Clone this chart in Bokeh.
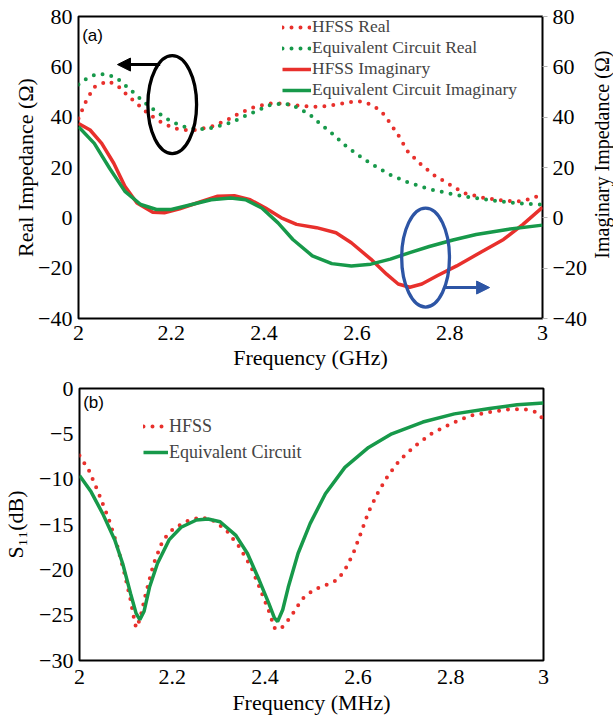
from bokeh.core.properties import value
from bokeh.embed import file_html
from bokeh.layouts import column, row
from bokeh.models import (Arrow, FixedTicker, Label, Legend, LegendItem,
                          LinearAxis, NormalHead, NumeralTickFormatter, Range1d)
from bokeh.plotting import figure
from bokeh.resources import INLINE

# ---------------- data: panel (a) impedance ----------------
hfss_real_f = [2.000, 2.017, 2.034, 2.063, 2.084, 2.105, 2.126, 2.150, 2.176, 2.206,
               2.230, 2.250, 2.286, 2.320, 2.345, 2.378, 2.420, 2.470, 2.517, 2.560,
               2.597, 2.618, 2.640, 2.660, 2.676, 2.689, 2.710, 2.735, 2.765, 2.800,
               2.830, 2.874, 2.916, 2.950, 2.975, 2.996]
hfss_real = [39.5, 46.7, 52.0, 54.3, 52.6, 48.7, 45.4, 41.4, 38.2, 35.5,
             34.9, 34.9, 36.2, 38.8, 41.4, 44.0, 45.7, 44.7, 44.0, 45.1,
             46.4, 46.0, 44.0, 40.8, 36.4, 32.9, 26.3, 21.7, 17.1, 13.2,
             9.9, 7.9, 6.8, 6.6, 7.5, 9.2]

circ_real_f = [2.000, 2.020, 2.040, 2.063, 2.084, 2.113, 2.143, 2.168, 2.200, 2.227,
               2.260, 2.290, 2.328, 2.370, 2.412, 2.437, 2.458, 2.496, 2.520, 2.546,
               2.576, 2.597, 2.618, 2.647, 2.672, 2.710, 2.752, 2.800, 2.840, 2.882,
               2.924, 2.958, 2.996]
circ_real = [53.0, 55.7, 57.2, 57.0, 55.3, 50.7, 45.7, 42.1, 38.2, 36.2,
             35.1, 35.8, 37.8, 41.4, 44.7, 45.4, 45.0, 41.4, 37.5, 33.6,
             28.6, 25.7, 23.0, 19.7, 17.1, 14.1, 11.6, 9.6, 8.3, 7.2,
             6.2, 5.7, 5.3]

hfss_imag_f = [2.000, 2.025, 2.050, 2.076, 2.100, 2.126, 2.160, 2.185, 2.218, 2.260,
               2.300, 2.336, 2.370, 2.403, 2.437, 2.470, 2.513, 2.555, 2.588, 2.630,
               2.664, 2.689, 2.714, 2.740, 2.773, 2.815, 2.866, 2.916, 2.958, 3.000]
hfss_imag = [37.5, 34.9, 29.6, 21.7, 12.5, 5.9, 2.2, 2.0, 3.6, 6.2,
             8.6, 8.8, 7.2, 3.9, 0.0, -2.6, -3.9, -5.9, -9.9, -16.4,
             -22.4, -26.3, -27.6, -26.3, -23.0, -19.1, -13.8, -8.6, -2.6, 4.2]

circ_imag_f = [2.000, 2.034, 2.067, 2.100, 2.134, 2.168, 2.200, 2.244, 2.286, 2.328,
               2.360, 2.395, 2.430, 2.462, 2.504, 2.546, 2.588, 2.630, 2.672, 2.714,
               2.756, 2.807, 2.857, 2.924, 3.000]
circ_imag = [36.2, 29.6, 19.7, 10.5, 5.3, 3.3, 3.3, 5.3, 7.2, 7.9,
             7.2, 3.9, -2.0, -8.6, -15.1, -18.2, -19.1, -18.4, -16.4, -13.8,
             -11.4, -8.8, -6.6, -4.6, -2.9]

# ---------------- data: panel (b) S11 ----------------
hfss_s11_f = [2.000, 2.020, 2.040, 2.063, 2.080, 2.097, 2.110, 2.118, 2.122, 2.130,
              2.143, 2.160, 2.180, 2.200, 2.227, 2.260, 2.286, 2.316, 2.345, 2.370,
              2.390, 2.410, 2.420, 2.430, 2.442, 2.460, 2.480, 2.505, 2.530, 2.556,
              2.572, 2.590, 2.606, 2.623, 2.644, 2.665, 2.690, 2.724, 2.758, 2.800,
              2.842, 2.884, 2.926, 2.960, 2.985, 3.000]
hfss_s11 = [-7.4, -9.0, -11.4, -14.4, -17.1, -20.4, -23.3, -25.5, -26.4, -25.5,
            -22.6, -19.3, -16.7, -15.6, -14.7, -14.2, -14.5, -15.6, -17.5, -19.7,
            -22.2, -24.8, -26.4, -26.6, -26.1, -24.8, -23.2, -22.2, -21.7, -21.1,
            -20.0, -18.2, -16.0, -13.6, -11.4, -9.6, -7.9, -6.3, -5.0, -3.9,
            -3.0, -2.6, -2.3, -2.3, -2.6, -3.4]

circ_s11_f = [2.000, 2.025, 2.050, 2.076, 2.093, 2.110, 2.122, 2.130, 2.139, 2.151,
              2.168, 2.193, 2.219, 2.252, 2.277, 2.303, 2.337, 2.362, 2.387, 2.408,
              2.420, 2.427, 2.438, 2.450, 2.471, 2.497, 2.530, 2.572, 2.623, 2.673,
              2.740, 2.808, 2.884, 2.943, 3.000]
circ_s11 = [-9.6, -11.4, -13.8, -16.7, -19.3, -22.6, -24.8, -25.5, -24.6, -21.9,
            -19.3, -16.7, -15.3, -14.5, -14.4, -14.7, -16.2, -18.2, -21.1, -23.7,
            -25.3, -25.7, -24.4, -21.9, -18.2, -14.9, -11.6, -8.7, -6.5, -5.0,
            -3.7, -2.8, -2.2, -1.8, -1.6]

# ---------------- ticks ----------------
freq_ticks = [2.0, 2.2, 2.4, 2.6, 2.8, 3.0]
imp_ticks = [-40, -20, 0, 20, 40, 60, 80]
s11_ticks = [-30, -25, -20, -15, -10, -5, 0]

# ---------------- callout marks on panel (a) ----------------
real_ring = dict(x=[2.202], y=[45.0], w=[0.105], h=[38.9])
real_arrow = dict(x0=2.176, x1=2.084, y=60.9)
imag_ring = dict(x=[2.748], y=[-15.8], w=[0.103], h=[39.3])
imag_arrow = dict(x0=2.790, x1=2.886, y=-27.7)

RED = "#e8302c"
GREEN = "#17994a"
BLUE = "#2d55a5"
SERIF = "'Liberation Serif', 'Times New Roman', serif"
SANS = "'Liberation Sans', Arial, sans-serif"
DOT = "0 9"


def style_axis(ax, ticks, label, label_standoff, major_standoff):
    ax.ticker = FixedTicker(ticks=ticks)
    ax.axis_label = label
    ax.axis_label_text_font = SERIF
    ax.axis_label_text_font_style = "normal"
    ax.axis_label_text_font_size = "22px"
    ax.axis_label_text_color = "black"
    ax.axis_label_standoff = label_standoff
    ax.major_label_text_font = SERIF
    ax.major_label_text_font_size = "22px"
    ax.major_label_text_color = "black"
    ax.major_label_standoff = major_standoff
    ax.major_tick_out = 0
    ax.major_tick_in = 0
    ax.minor_tick_out = 0
    ax.minor_tick_in = 0
    ax.axis_line_color = None


def base_figure(width, height, top, right_border, bottom, yr):
    p = figure(width=width, height=height, output_backend="svg", toolbar_location=None,
               x_range=Range1d(2, 3), y_range=Range1d(*yr),
               min_border_left=78, min_border_right=right_border,
               min_border_top=top, min_border_bottom=bottom)
    p.xgrid.visible = False
    p.ygrid.visible = False
    p.outline_line_color = "black"
    p.outline_line_width = 2
    p.background_fill_color = "white"
    p.border_fill_color = "white"
    return p


# ================= panel (a) =================
p1 = base_figure(589, 376, 16, 46, 58, (-40, 80))
p1.extra_y_ranges = {"imag": Range1d(-40, 80)}
style_axis(p1.xaxis[0], freq_ticks, "Frequency (GHz)", 2, 7)
p1.xaxis[0].formatter = NumeralTickFormatter(format="0.[0]")
style_axis(p1.yaxis[0], imp_ticks, "Real Impedance (Ω)", -3, 6)

right = LinearAxis(y_range_name="imag")
style_axis(right, imp_ticks, None, 0, 5)
right.major_tick_out = 5
right.major_tick_line_color = "#b4b4b4"
p1.add_layout(right, "right")

r_hr = p1.line(hfss_real_f, hfss_real, line_color=RED, line_width=4,
               line_dash=DOT, line_cap="round")
r_cr = p1.line(circ_real_f, circ_real, line_color=GREEN, line_width=4,
               line_dash=DOT, line_cap="round")
r_hi = p1.line(hfss_imag_f, hfss_imag, line_color=RED, line_width=3.5,
               y_range_name="imag")
r_ci = p1.line(circ_imag_f, circ_imag, line_color=GREEN, line_width=3.5,
               y_range_name="imag")

p1.ellipse(x=real_ring["x"], y=real_ring["y"], width=real_ring["w"],
           height=real_ring["h"], fill_color=None, line_color="black", line_width=3.3)
p1.ellipse(x=imag_ring["x"], y=imag_ring["y"], width=imag_ring["w"],
           height=imag_ring["h"], fill_color=None, line_color=BLUE, line_width=3.3)
p1.add_layout(Arrow(end=NormalHead(size=13, fill_color="black", line_color="black"),
                    x_start=real_arrow["x0"], y_start=real_arrow["y"],
                    x_end=real_arrow["x1"], y_end=real_arrow["y"],
                    line_color="black", line_width=3))
p1.add_layout(Arrow(end=NormalHead(size=13, fill_color=BLUE, line_color=BLUE),
                    x_start=imag_arrow["x0"], y_start=imag_arrow["y"],
                    x_end=imag_arrow["x1"], y_end=imag_arrow["y"],
                    line_color=BLUE, line_width=3))

p1.add_layout(Label(x=2.008, y=76.4, text="(a)", text_font=SANS, text_font_size="17px",
                    text_baseline="top", text_color="black"))

leg1 = Legend(items=[LegendItem(label="HFSS Real", renderers=[r_hr]),
                     LegendItem(label="Equivalent Circuit Real", renderers=[r_cr]),
                     LegendItem(label="HFSS Imaginary", renderers=[r_hi]),
                     LegendItem(label="Equivalent Circuit Imaginary", renderers=[r_ci])],
              location=(204, 218), padding=0, margin=0, spacing=0,
              label_height=20, glyph_height=20, glyph_width=29, label_standoff=1,
              label_text_font=SERIF, label_text_font_size="17.5px",
              background_fill_alpha=0, border_line_color=None)
p1.add_layout(leg1)

# narrow strip carrying the right-hand axis title, reading bottom to top
title_strip = figure(width=24, height=376, output_backend="svg", toolbar_location=None,
                     x_range=Range1d(0, 24), y_range=Range1d(376, 0),
                     x_axis_type=None, y_axis_type=None, min_border=0)
title_strip.outline_line_color = None
title_strip.background_fill_color = "white"
title_strip.border_fill_color = "white"
title_strip.text(x=[12], y=[172], text=["Imaginary Impedance (Ω)"],
                 angle=90, angle_units="deg", text_align="center",
                 text_baseline="middle", text_font=value(SERIF),
                 text_font_size="20px", text_color="black")

# ================= panel (b) =================
p2 = base_figure(613, 341, 12, 70, 56, (-30, 0))
style_axis(p2.xaxis[0], freq_ticks, "Frequency (MHz)", 3, 9)
p2.xaxis[0].formatter = NumeralTickFormatter(format="0.[0]")
style_axis(p2.yaxis[0], s11_ticks, "S₁₁(dB)", 8, 6)

r_hs = p2.line(hfss_s11_f, hfss_s11, line_color=RED, line_width=4,
               line_dash=DOT, line_cap="round")
r_cs = p2.line(circ_s11_f, circ_s11, line_color=GREEN, line_width=3.5)

p2.add_layout(Label(x=2.008, y=-0.55, text="(b)", text_font=SANS, text_font_size="17px",
                    text_baseline="top", text_color="black"))

leg2 = Legend(items=[LegendItem(label="HFSS", renderers=[r_hs]),
                     LegendItem(label="Equivalent Circuit", renderers=[r_cs])],
              location=(64, 195), padding=0, margin=0, spacing=0,
              label_height=26, glyph_height=26, glyph_width=25, label_standoff=1,
              label_text_font=SERIF, label_text_font_size="18px",
              background_fill_alpha=0, border_line_color=None)
p2.add_layout(leg2)

layout = column(row(p1, title_strip, spacing=0), p2, spacing=0)
open("out.html", "w").write(file_html(layout, INLINE))
